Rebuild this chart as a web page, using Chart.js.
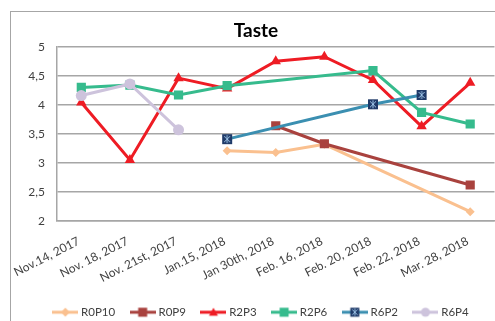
<!DOCTYPE html>
<html>
<head>
<meta charset="utf-8">
<script src="https://cdn.jsdelivr.net/npm/chart.js@4/dist/chart.umd.min.js"></script>
<style>
  html, body { margin: 0; padding: 0; background: #fff; overflow: hidden; width: 495px; height: 321px; }
  #frame { position: absolute; left: 10px; top: 11px; width: 600px; height: 400px;
           border-left: 1px solid #a6a6a6; border-top: 1px solid #a6a6a6; }
  #c { position: absolute; left: 0; top: 0; }
</style>
</head>
<body>
<div id="frame"><canvas id="c" width="490" height="316"></canvas></div>
<script>
// Tasting dates
const categories = ['Nov.14, 2017', 'Nov. 18, 2017', 'Nov. 21st, 2017', 'Jan.15, 2018',
  'Jan 30th, 2018', 'Feb. 16, 2018', 'Feb. 20, 2018', 'Feb. 22, 2018', 'Mar. 28, 2018'];

// Taste scores per sample
const r0p10 = [null, null, null, 3.21, 3.18, 3.32, null, null, 2.16];
const r0p9  = [null, null, null, null, 3.64, 3.33, null, null, 2.62];
const r2p3  = [4.04, 3.05, 4.46, 4.28, 4.75, 4.83, 4.43, 3.63, 4.38];
const r2p6  = [4.30, 4.34, 4.17, 4.33, null, null, 4.59, 3.87, 3.67];
const r6p2  = [null, null, null, 3.41, null, null, 4.01, 4.17, null];
const r6p4  = [4.16, 4.36, 3.57, null, null, null, null, null, null];

const yTicks = [2, 2.5, 3, 3.5, 4, 4.5, 5];

// Marker drawing helpers
function drawMarker(ctx, kind, cx, cy, s, fill, accent) {
  ctx.fillStyle = fill;
  ctx.beginPath();
  if (kind === 'diamond') {
    ctx.moveTo(cx, cy - s); ctx.lineTo(cx + s, cy); ctx.lineTo(cx, cy + s); ctx.lineTo(cx - s, cy);
    ctx.closePath(); ctx.fill();
  } else if (kind === 'square') {
    ctx.rect(cx - s, cy - s, 2 * s, 2 * s); ctx.fill();
  } else if (kind === 'triangle') {
    ctx.moveTo(cx, cy - s); ctx.lineTo(cx + s, cy + s * 0.8); ctx.lineTo(cx - s, cy + s * 0.8);
    ctx.closePath(); ctx.fill();
  } else if (kind === 'circle') {
    ctx.arc(cx, cy, s, 0, Math.PI * 2); ctx.fill();
  } else if (kind === 'star') {
    ctx.rect(cx - s, cy - s, 2 * s, 2 * s); ctx.fill();
    ctx.strokeStyle = accent; ctx.lineWidth = 1;
    ctx.beginPath();
    const a = s * 0.6;
    ctx.moveTo(cx - a, cy - a); ctx.lineTo(cx + a, cy + a);
    ctx.moveTo(cx + a, cy - a); ctx.lineTo(cx - a, cy + a);
    ctx.moveTo(cx, cy - s * 0.8); ctx.lineTo(cx, cy + s * 0.8);
    ctx.stroke();
  }
}

function pointIcon(kind, s, fill, accent) {
  const c = document.createElement('canvas');
  c.width = Math.ceil(2 * s + 2); c.height = Math.ceil(2 * s + 2);
  drawMarker(c.getContext('2d'), kind, c.width / 2, c.height / 2, s, fill, accent);
  return c;
}

function legendIcon(kind, s, lineColor, fill, accent) {
  const c = document.createElement('canvas');
  c.width = 26; c.height = 12;
  const ctx = c.getContext('2d');
  ctx.strokeStyle = lineColor; ctx.lineWidth = 3;
  ctx.beginPath(); ctx.moveTo(0, 6); ctx.lineTo(26, 6); ctx.stroke();
  drawMarker(ctx, kind, 13, 6, s, fill, accent);
  return c;
}

const series = [
  { label: 'R0P10', data: r0p10, color: '#fac08f', marker: '#fac08f', kind: 'diamond', style: 'rectRot', r: 4.5 },
  { label: 'R0P9',  data: r0p9,  color: '#a9423e', marker: '#a9423e', kind: 'square',  style: 'rect', r: 6.5 },
  { label: 'R2P3',  data: r2p3,  color: '#ee1c24', marker: '#ee1c24', kind: 'triangle', style: 'triangle', r: 6 },
  { label: 'R2P6',  data: r2p6,  color: '#36bb8d', marker: '#36bb8d', kind: 'square',  style: 'rect', r: 6.5 },
  { label: 'R6P2',  data: r6p2,  color: '#3b8fb1', marker: '#1f3a68', kind: 'star',    style: null, r: 5, accent: '#9cc3e6' },
  { label: 'R6P4',  data: r6p4,  color: '#cdc3dc', marker: '#cdc3dc', kind: 'circle',  style: 'circle', r: 5.5 }
];

const legendIcons = series.map(s => legendIcon(s.kind, 4.5, s.color, s.marker, s.accent));

const datasets = series.map((s, i) => ({
  label: s.label,
  data: s.data,
  borderColor: s.color,
  backgroundColor: s.marker,
  borderWidth: 3,
  pointStyle: s.style || pointIcon('star', 5, s.marker, s.accent),
  pointRadius: s.r,
  pointBorderWidth: 0,
  pointBackgroundColor: s.marker,
  pointBorderColor: s.marker,
  tension: 0,
  spanGaps: true,
  order: series.length - i
}));

const tickColor = '#404040';
const gridColor = '#a6a6a6';

// Nudge the legend row slightly to the right of the canvas centre
const legendNudge = {
  id: 'legendNudge',
  afterLayout(chart) {
    if (chart.legend) {
      chart.legend.left += 6;
      chart.legend.right += 6;
    }
  }
};

new Chart(document.getElementById('c'), {
  type: 'line',
  data: { labels: categories, datasets },
  plugins: [legendNudge],
  options: {
    responsive: false,
    animation: false,
    events: [],
    layout: { padding: 0 },
    plugins: {
      title: {
        display: true,
        text: 'Taste',
        color: '#000',
        font: { family: 'Lato', size: 19, weight: 'bold' },
        padding: { top: 7, bottom: 5 }
      },
      legend: {
        position: 'bottom',
        labels: {
          usePointStyle: true,
          pointStyleWidth: 20,
          padding: 17.5,
          color: tickColor,
          font: { family: 'Lato', size: 11.5 },
          generateLabels: () => series.map((s, i) => ({
            text: s.label,
            pointStyle: legendIcons[i],
            fillStyle: s.color,
            strokeStyle: s.color,
            lineWidth: 0,
            hidden: false,
            datasetIndex: i,
            fontColor: tickColor
          }))
        }
      },
      tooltip: { enabled: false }
    },
    scales: {
      x: {
        offset: true,
        grid: { display: false, drawTicks: false },
        border: { display: true, color: gridColor, width: 1.5 },
        ticks: {
          color: tickColor,
          font: { family: 'Lato', size: 12 },
          minRotation: 27,
          maxRotation: 27,
          autoSkip: false,
          padding: 13,
          labelOffset: -2.5
        },
        afterFit: scale => {
          scale.height = 68;
          scale.paddingLeft = 0;
          scale.paddingRight = 0;
        }
      },
      y: {
        min: 2,
        max: 5,
        afterBuildTicks: scale => { scale.ticks = yTicks.map(v => ({ value: v })); },
        grid: { color: gridColor, lineWidth: 1.5, drawTicks: false },
        border: { display: true, color: gridColor, width: 1.5 },
        ticks: {
          color: tickColor,
          font: { family: 'Lato', size: 12 },
          padding: 12,
          callback: v => String(v).replace('.', ',')
        },
        afterFit: scale => { scale.width = 46; }
      }
    }
  }
});
</script>
</body>
</html>
